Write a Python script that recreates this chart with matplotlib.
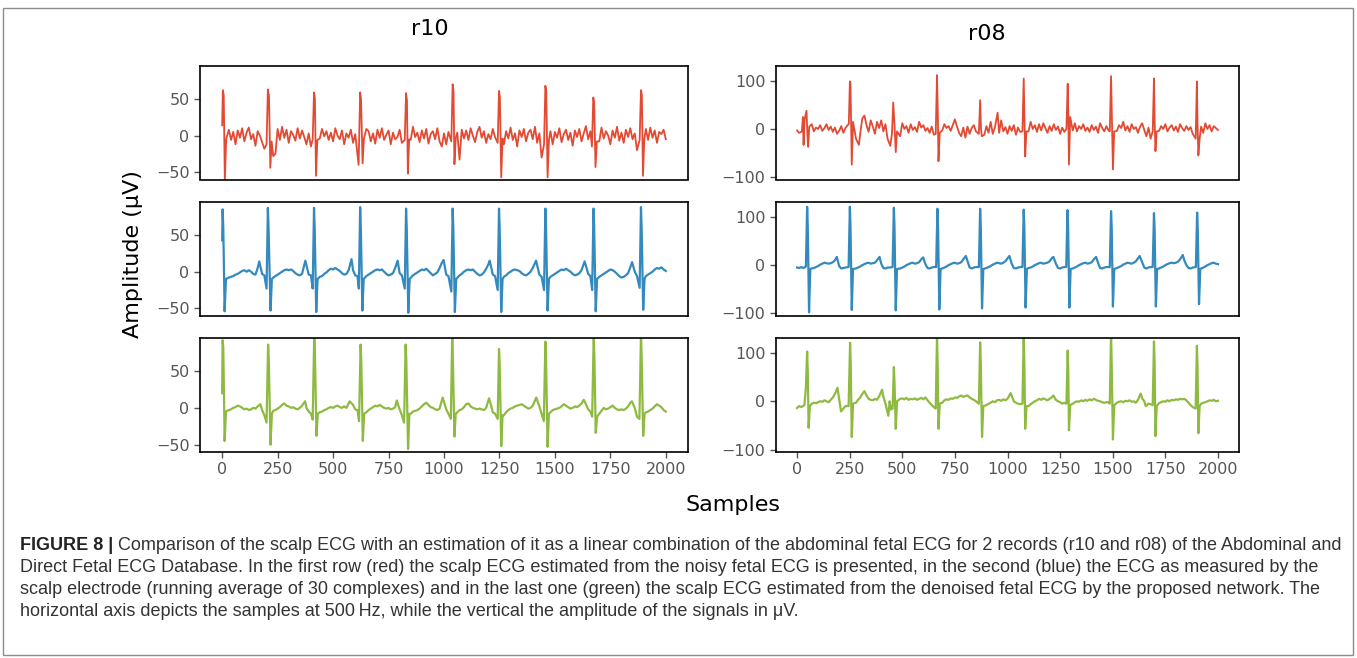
import numpy as np
import matplotlib
matplotlib.use('Agg')
import matplotlib.pyplot as plt
from matplotlib import font_manager
from matplotlib.patches import Rectangle

# ---- data (amplitude in uV, x in samples) ----
# baseline values every 10 samples (0..2000); QRS / wave points listed separately
r10_red_base = [14, 0, 2, 8, -6, 5, -12, 7, -3, 10,
                -8, 4, 11, -5, 2, -14, 6, 0, -9, -18,
                5, 0, 0, -28, -25, 9, -6, 12, -3, 8,
                -10, 6, 1, -7, 10, -4, 7, -2, -12, 3,
                -15, 0, 0, 0, -4, 9, -1, 6, -6, 4,
                -8, 10, 0, -5, 7, -12, 3, -3, 8, -10,
                2, 0, 0, 0, -20, 9, 6, -8, 3, -11,
                8, -3, 10, -6, 1, 7, -12, 4, -5, -2,
                8, -10, 6, 0, 0, -6, 12, -2, 4, -9,
                7, -4, 9, -11, 2, 6, -5, 10, -8, -15,
                3, -12, 5, 0, 0, 0, 4, -33, 8, -4,
                7, -6, 10, 0, -9, 5, 12, -3, 6, -10,
                2, -5, 9, -2, 0, 0, 0, -12, 6, -4,
                11, -6, 3, -15, 7, -2, 9, -8, 4, 8,
                -5, 12, -10, 3, -30, 0, 0, 0, 6, -12,
                5, -3, 10, -9, 2, 8, -6, 4, -14, 7,
                -2, 9, -8, 3, 13, -5, 6, 0, 0, 0,
                -8, 11, -4, 6, 0, -12, 7, -3, 12, -7,
                4, -10, 8, -2, 10, -5, 3, -20, 0, 0,
                0, 9, -6, 11, -3, 7, -10, 5, 2, 8,
                -5]
r10_red_fx = [0, 3, 7, 12, 18, 200, 206, 211, 217, 223, 408, 414, 418, 423, 429,
              615, 622, 626, 633, 639, 823, 829, 833, 837, 843, 1033, 1039, 1043, 1047, 1053,
              1242, 1248, 1252, 1258, 1264, 1451, 1457, 1461, 1467, 1473,
              1667, 1673, 1677, 1683, 1689, 1882, 1888, 1892, 1897, 1903]
r10_red_fy = [14, 62, 55, -62, -5, -12, 63, 54, -44, -8, -5, 59, 50, -55, -6,
              -40, 59, 49, -38, -4, -6, 58, 48, -52, -5, -8, 70, 60, -39, -3,
              -10, 61, 52, -57, -4, -12, 68, 60, -57, -6,
              -15, 52, 45, -43, -8, -6, 62, 55, -55, -5]

r10_blue_base = [43, 0, -9, -8, -7, -6, -4, -3, -1, 1,
                 2, 0, 2, 0, -3, -4, 5, 8, -3, -5,
                 -8, 0, 0, -8, -6, -4, -2, 0, 2, 3,
                 2, 3, 1, -2, -4, -5, -3, 8, 6, -4,
                 -5, 0, 0, -8, -7, -6, -3, -1, 2, 4,
                 3, 5, 3, 1, -2, -4, -3, 2, 15, 2,
                 -5, -6, 0, 0, -8, -6, -4, -2, 0, 2,
                 3, 2, 3, 0, -3, -5, -4, -2, 5, 12,
                 -2, -5, -6, 0, 0, -7, -5, -3, -1, 1,
                 3, 2, 4, 1, -2, -5, -3, -1, 5, 12,
                 3, -4, -6, -8, 0, 0, -7, -5, -3, 0,
                 2, 3, 2, 3, 0, -3, -5, -4, -1, 4,
                 10, 3, -4, -6, 0, 0, 0, -7, -5, -2,
                 0, 2, 3, 2, 1, -2, -4, -5, -3, 0,
                 5, 12, 4, -4, -7, 0, 0, 0, -7, -5,
                 -3, -1, 1, 3, 2, 4, 2, 0, -3, -5,
                 -4, -2, 2, 10, 8, -3, -6, 0, 0, 0,
                 -7, -5, -3, -1, 1, 3, 2, 0, -3, -6,
                 -8, -7, -5, -2, 6, 10, 0, -6, 0, 0,
                 0, -6, -4, -2, 0, 3, 5, 4, 6, 3,
                 1]
r10_blue_fx = [0, 2, 5, 11, 17, 167, 200, 206, 209, 218, 224, 375, 408, 414, 417, 424, 430, 583,
               616, 622, 625, 632, 638, 791, 823, 829, 832, 839, 845, 998,
               1033, 1039, 1042, 1049, 1055, 1206, 1242, 1248, 1251, 1258, 1264, 1415,
               1451, 1457, 1460, 1467, 1473, 1634, 1668, 1674, 1677, 1684, 1690, 1848,
               1882, 1888, 1891, 1898, 1904]
r10_blue_fy = [43, 85, 60, -54, -10, 14, -23, 87, 60, -53, -10, 15, -23, 87, 60, -55, -10, 17,
               -23, 88, 60, -53, -10, 15, -23, 86, 60, -56, -10, 16,
               -27, 86, 60, -55, -10, 15, -25, 86, 60, -55, -10, 15,
               -25, 86, 60, -53, -10, 14, -25, 86, 60, -54, -10, 13,
               -22, 88, 60, -52, -10]

r10_green_base = [20, 0, -5, -3, -2, 0, 1, 3, 2, 0,
                  -2, -1, -3, -2, 0, -1, 2, 5, -3, -10,
                  0, 0, 0, -4, -3, -1, 1, 4, 6, 3,
                  2, 0, 1, -1, -2, 0, 3, 8, 0, -5,
                  -8, 0, 0, 0, -6, -5, -3, -2, 0, 1,
                  0, 2, 3, 1, 0, 2, 0, 3, 7, 4,
                  -2, -3, 0, 0, 0, -6, -3, -1, 1, 3,
                  2, 4, 2, 0, -1, 0, -2, -1, 1, 6,
                  -2, -10, 0, 0, 0, -8, -5, -4, -3, -1,
                  2, 5, 7, 4, 1, 0, -2, -3, -1, 3,
                  8, -2, -8, 0, 0, 0, -6, -3, -2, 1,
                  5, 6, 2, 0, -1, -2, -1, -2, -3, 0,
                  12, 6, -6, -8, 0, 0, 0, -10, -6, -3,
                  -1, 0, 2, 3, 4, 5, 3, 1, -1, 0,
                  3, 10, 12, 2, -8, 0, 0, 0, -6, -3,
                  -2, -1, 0, 2, 5, 3, 1, -1, 0, 2,
                  1, 3, 6, 10, 5, -2, -5, 0, 0, 0,
                  -8, -4, 0, -2, -1, 1, 3, 0, -2, -3,
                  -2, -3, -1, 2, 7, 8, 0, -12, 0, 0,
                  0, -6, -5, -3, -1, 2, 5, 3, 1, -3,
                  -5]
r10_green_fx = [0, 2, 5, 11, 17, 172, 200, 207, 210, 218, 224, 374, 408, 415, 418, 425, 431, 575,
                617, 624, 627, 634, 640, 787, 820, 827, 830, 838, 844, 994,
                1031, 1037, 1040, 1047, 1053, 1203, 1242, 1248, 1251, 1258, 1264, 1416,
                1450, 1457, 1460, 1467, 1473, 1630, 1668, 1675, 1678, 1684, 1690, 1847,
                1881, 1888, 1891, 1898, 1904]
r10_green_fy = [20, 92, 82, -45, -5, 5, -20, 86, 66, -50, -8, 9, -16, 100, 75, -38, -8, 9,
                -18, 86, 66, -45, -8, 10, -20, 86, 66, -56, -8, 14,
                -15, 100, 66, -39, -8, 13, -15, 80, 60, -52, -10, 14,
                -18, 90, 66, -53, -8, 11, -12, 100, 70, -34, -12, 9,
                -15, 100, 70, -38, -8]

r08_red_base = [-3, -8, 5, 0, 0, 0, 0, 10, -5, 3,
                0, 8, -4, 2, 10, -2, 5, -6, 3, -10,
                -4, 6, -8, 2, 8, 0, 0, 0, -20, 15,
                -10, 22, 0, 8, -6, 18, 5, -10, 15, 2,
                18, -5, 10, -20, 0, 0, 0, 0, 5, -15,
                12, 0, 6, -8, 10, -2, 4, -6, 15, 3,
                8, -4, 2, -8, 5, -12, 0, 0, 0, -3,
                10, 2, 6, -4, 8, 20, 5, -8, -15, 3,
                -18, 5, -10, 2, 8, -5, 0, 0, 0, -12,
                6, -8, 15, -10, 3, 0, -8, 18, -5, 4,
                -10, 6, -4, 8, -12, 3, -6, 0, 0, 0,
                -5, 15, 0, 8, -6, 10, -3, 12, 2, -8,
                6, -4, 10, -2, 5, -10, 3, -6, 0, 0,
                0, -3, 12, -5, 6, 0, 10, -4, 3, -6,
                8, -2, 5, -8, 12, 2, -5, 6, -3, 0,
                0, 10, -4, 8, 2, 15, -3, 6, -6, 10,
                0, 4, -8, 5, 12, -2, -15, 3, -20, 0,
                0, 8, -4, 6, 0, 10, -5, 3, 8, -3,
                5, -6, 10, 2, -4, 6, -2, 4, -10, 0,
                0, 0, 5, -8, 12, 0, 8, -5, 6, 2,
                -2]
r08_red_fx = [23, 28, 31, 36, 45, 49, 53, 58, 246, 251, 254, 260, 266, 294, 320,
              443, 451, 457, 463, 469, 475, 659, 665, 669, 672, 678, 864, 870, 874, 878, 953,
              1071, 1077, 1080, 1084, 1090, 1280, 1286, 1289, 1292, 1298,
              1486, 1492, 1496, 1501, 1507, 1690, 1696, 1699, 1703, 1709,
              1894, 1900, 1903, 1907, 1913]
r08_red_fy = [-5, 25, -33, 20, 38, -10, -37, 5, 10, 99, 95, -74, 15, -33, 28,
              -35, -10, 55, 10, -48, -5, -10, 112, 30, -67, -8, -10, 60, 0, -15, 34,
              -5, 105, 40, -57, -5, 0, 94, 30, -74, 25,
              -5, 110, 20, -84, -5, -5, 105, 20, -46, -5,
              -20, 99, 10, -55, -20]

r08_blue_base = [-5, -6, -4, -6, 0, 0, 0, -7, -6, -4,
                 -2, 1, 3, 5, 4, 3, 4, 6, 10, 0,
                 -2, -7, -6, -5, -4, 0, 0, 0, -7, -5,
                 -3, 0, 2, 4, 5, 3, 4, 5, 10, 0,
                 3, -6, -7, -5, -5, 0, 0, 0, -8, -7,
                 -5, -3, 0, 2, 4, 5, 3, 4, 6, 12,
                 0, 2, -6, -7, -5, -4, 0, 0, 0, -7,
                 -5, -3, 0, 2, 4, 5, 3, 4, 6, 12,
                 0, 8, -5, -7, -5, -4, 0, 0, 0, -8,
                 -6, -4, -2, 1, 3, 5, 4, 3, 5, 8,
                 14, 0, 3, -6, -7, -5, -4, 0, 0, 0,
                 -6, -5, -3, 0, 2, 4, 5, 3, 4, 5,
                 8, 14, 0, 3, -6, -7, -5, -4, 0, 0,
                 0, -7, -5, -3, 0, 2, 4, 5, 3, 4,
                 6, 12, 0, 5, -6, -7, -5, -4, -4, 0,
                 0, -8, -6, -4, -2, 1, 3, 5, 4, 3,
                 5, 8, 14, 0, 6, -5, -7, -5, -4, 0,
                 0, 0, -7, -5, -3, 0, 2, 4, 5, 4,
                 5, 7, 12, 0, 10, 0, -6, -7, -5, -4,
                 0, 0, -7, -5, -3, 0, 2, 4, 5, 3,
                 2]
r08_blue_fx = [42, 48, 51, 57, 63, 189, 245, 251, 254, 260, 266, 392, 454, 460, 463, 469, 475, 599,
               661, 667, 670, 676, 682, 802, 864, 870, 873, 879, 885, 1009,
               1071, 1077, 1080, 1086, 1092, 1218, 1279, 1285, 1288, 1294, 1300, 1421,
               1486, 1492, 1495, 1501, 1507, 1628, 1690, 1696, 1699, 1705, 1711, 1833,
               1895, 1901, 1904, 1910, 1916]
r08_blue_fy = [-3, 121, 80, -98, -8, 17, -4, 121, 80, -93, -8, 17, -4, 119, 80, -94, -8, 16,
               -4, 117, 80, -92, -8, 19, -4, 117, 80, -90, -8, 19,
               -4, 115, 80, -88, -8, 17, -4, 114, 80, -88, -8, 17,
               -4, 112, 80, -86, -8, 19, -4, 108, 75, -86, -8, 21,
               -4, 109, 75, -81, -8]

r08_green_base = [-14, -10, -12, 0, 0, 0, 0, -5, -3, -4,
                  -2, 0, -1, 2, 0, -2, 3, 8, 15, 0,
                  5, 0, -15, -10, 0, 0, 0, 0, -3, 3,
                  8, 15, 0, 12, 5, 3, 2, 5, 3, 10,
                  0, 10, -5, 0, 0, 0, 0, 0, 0, 5,
                  6, 4, 7, 3, 5, 4, 6, 3, 5, 7,
                  4, 8, 2, -3, -8, -12, 0, 0, 0, -3,
                  2, 4, 3, 6, 5, 8, 7, 10, 12, 9,
                  11, 12, 8, 5, 3, 0, 0, 0, 0, -10,
                  -8, -5, -3, 0, -2, 2, 3, 1, 4, 2,
                  5, 0, 0, 0, -3, -5, -6, 0, 0, 0,
                  -10, -6, -3, 0, 2, 5, 3, 6, 4, 2,
                  5, 8, 0, 3, 0, -2, -5, -3, 0, 0,
                  0, -5, -2, 0, -1, 2, 0, 3, 1, 4,
                  2, 5, 3, 1, 0, -2, -3, -2, -2, 0,
                  0, 0, -3, -1, 0, -2, 1, 0, 2, -1,
                  0, -3, 3, 0, 6, 0, -8, -5, -6, 0,
                  0, 0, -4, -2, 0, -1, 2, 0, 3, 2,
                  4, 3, 5, 4, 5, 2, -3, -8, -12, 0,
                  0, 0, -5, -3, -2, 0, 2, 1, 3, 0,
                  1]
r08_green_fx = [35, 42, 48, 51, 55, 61, 192, 209, 245, 252, 255, 260, 266, 320, 404, 434, 446,
                454, 460, 463, 469, 475, 659, 665, 668, 672, 678, 864, 870, 873, 879, 885, 1015,
                1071, 1077, 1080, 1084, 1090, 1218, 1280, 1286, 1289, 1292, 1298,
                1486, 1492, 1495, 1501, 1507, 1633, 1657, 1690, 1696, 1699, 1703, 1709,
                1894, 1900, 1903, 1907, 1913]
r08_green_fy = [-8, 28, 103, 60, -55, -10, 28, -21, -10, 121, 80, -74, -5, 21, 24, -30, -17,
                -15, 71, 40, -57, 0, -15, 135, 80, -57, -5, -5, 122, 80, -74, -10, 17,
                -5, 135, 80, -57, -10, 12, -5, 105, 60, -60, -8,
                -5, 140, 80, -79, -8, 16, -10, -8, 124, 80, -72, -10,
                -15, 115, 70, -66, -10]

records = ['r10', 'r08']
row_colors = ['#E24A33', '#348ABD', '#8EBA42']
x_ticks = [0, 250, 500, 750, 1000, 1250, 1500, 1750, 2000]
y_ticks = {'r10': [-50, 0, 50], 'r08': [-100, 0, 100]}
y_lims = {'r10': (-60, 95), 'r08': (-105, 131)}

caption = [
    "Comparison of the scalp ECG with an estimation of it as a linear combination of the abdominal fetal ECG for 2 records (r10 and r08) of the Abdominal and",
    "Direct Fetal ECG Database. In the first row (red) the scalp ECG estimated from the noisy fetal ECG is presented, in the second (blue) the ECG as measured by the",
    "scalp electrode (running average of 30 complexes) and in the last one (green) the scalp ECG estimated from the denoised fetal ECG by the proposed network. The",
    "horizontal axis depicts the samples at 500\u2009Hz, while the vertical the amplitude of the signals in \u03bcV.",
]

signals = {
    'r10': [(r10_red_base, r10_red_fx, r10_red_fy),
            (r10_blue_base, r10_blue_fx, r10_blue_fy),
            (r10_green_base, r10_green_fx, r10_green_fy)],
    'r08': [(r08_red_base, r08_red_fx, r08_red_fy),
            (r08_blue_base, r08_blue_fx, r08_blue_fy),
            (r08_green_base, r08_green_fx, r08_green_fy)],
}


def build(base, fx, fy):
    # merge the 10-sample baseline with the listed wave points
    gx = np.arange(len(base)) * 10
    fx = np.asarray(fx, float)
    keep = np.array([np.min(np.abs(fx - g)) >= 6 for g in gx])
    x = np.concatenate([gx[keep], fx])
    y = np.concatenate([np.asarray(base, float)[keep], np.asarray(fy, float)])
    order = np.argsort(x, kind='stable')
    return x[order], y[order]


W, H = 1357, 658
fig = plt.figure(figsize=(W / 100, H / 100), dpi=100)


def rect(x0, y0, x1, y1):
    return [x0 / W, 1 - y1 / H, (x1 - x0) / W, (y1 - y0) / H]


cols = [(200, 688), (776, 1239)]
rows = [(66, 179.5), (202, 315.7), (338, 452)]
line_w = [1.3, 1.6, 1.6]

for c, rec in enumerate(records):
    for r in range(3):
        ax = fig.add_axes(rect(cols[c][0], rows[r][0], cols[c][1], rows[r][1]))
        x, y = build(*signals[rec][r])
        ax.plot(x, y, color=row_colors[r], lw=line_w[r])
        ax.set_xlim(-100, 2100)
        ax.set_ylim(*y_lims[rec])
        ax.set_yticks(y_ticks[rec])
        if r == 2:
            ax.set_xticks(x_ticks)
        else:
            ax.set_xticks([])
        ax.tick_params(labelsize=11.5, colors='#555555', length=4, width=1)
        for s in ax.spines.values():
            s.set_color('black')
            s.set_linewidth(1.2)

fig.text(430 / W, 1 - 29 / H, 'r10', ha='center', va='center', fontsize=16)
fig.text(987 / W, 1 - 34 / H, 'r08', ha='center', va='center', fontsize=16)
fig.text(133 / W, 1 - 254 / H, 'Amplitude (\u03bcV)', rotation=90, ha='center', va='center', fontsize=16)
fig.text(733 / W, 1 - 505 / H, 'Samples', ha='center', va='center', fontsize=16)

fig.patches.append(Rectangle((3 / W, 1 - 655 / H), 1350 / W, 647 / H, transform=fig.transFigure,
                             fill=False, ec='#8c8c8c', lw=1))

names = {f.name for f in font_manager.fontManager.ttflist}
cap_font = 'Liberation Sans Narrow' if 'Liberation Sans Narrow' in names else 'Liberation Sans'
cap_y = [546, 568, 590, 612]


def draw_caption(fs):
    rnd = fig.canvas.get_renderer()
    items = []
    b = fig.text(20 / W, 1 - cap_y[0] / H, 'FIGURE 8 |', fontsize=fs, fontweight='bold',
                 family=cap_font, va='center', color='#222222')
    items.append(b)
    bb = b.get_window_extent(rnd)
    t = fig.text((bb.x1 + 5) / W, 1 - cap_y[0] / H, caption[0], fontsize=fs,
                 family=cap_font, va='center', color='#333333')
    items.append(t)
    for k in range(1, 4):
        items.append(fig.text(20 / W, 1 - cap_y[k] / H, caption[k], fontsize=fs,
                              family=cap_font, va='center', color='#333333'))
    return items, t.get_window_extent(rnd).x1


fs = 12
items, right = draw_caption(fs)
fs = fs * (1342 - 20) / (right - 20)
for it in items:
    it.remove()
draw_caption(fs)

fig.savefig('out.png', dpi=100)
